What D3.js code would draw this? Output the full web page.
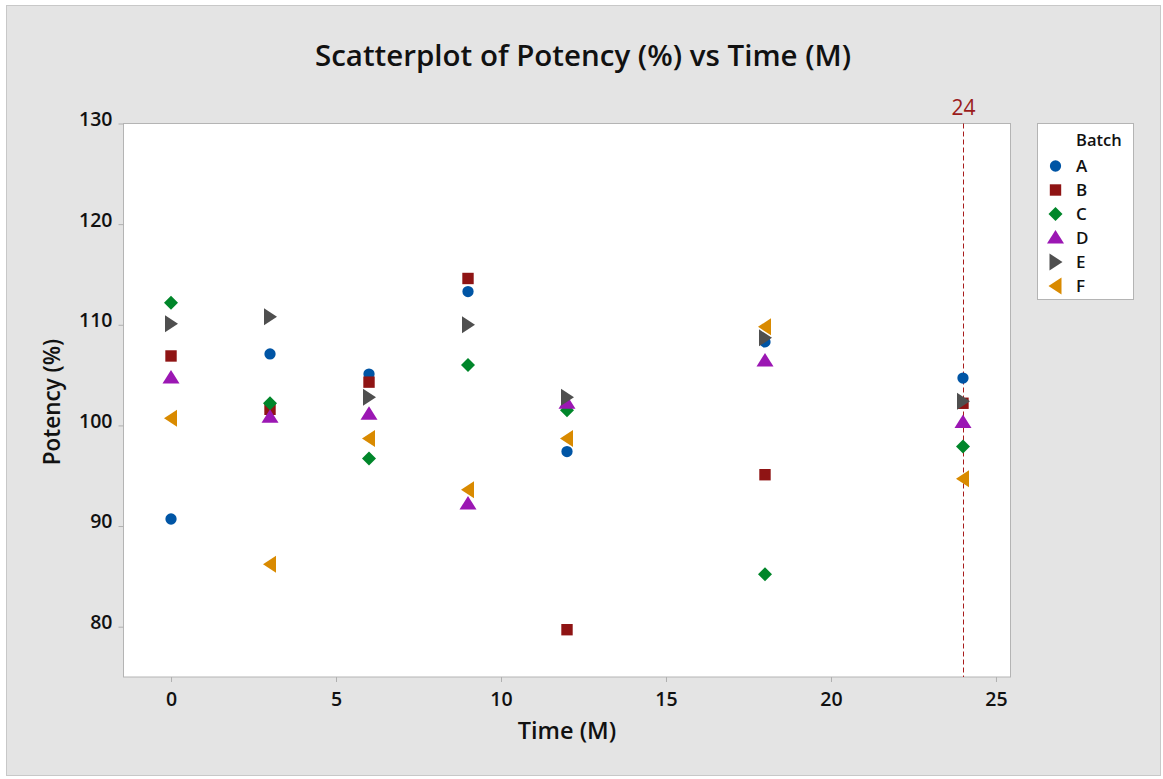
<!DOCTYPE html>
<html>
<head>
<meta charset="utf-8">
<script src="https://cdn.jsdelivr.net/npm/d3@7"></script>
<style>
  html, body { margin: 0; padding: 0; background: #ffffff; }
  svg { display: block; font-family: "Open Sans", "Noto Sans", sans-serif; }
</style>
</head>
<body>
<svg id="chart" width="1163" height="779"></svg>
<script>
// ---- Data ----
const times = [0, 3, 6, 9, 12, 18, 24];
const batches = ["A", "B", "C", "D", "E", "F"];
const potencyA = [90.7, 107.1, 105.1, 113.3, 97.4, 108.3, 104.7];
const potencyB = [106.9, 101.6, 104.3, 114.6, 79.7, 95.1, 102.2];
const potencyC = [112.2, 102.2, 96.7, 106.0, 101.5, 85.2, 97.9];
const potencyD = [104.7, 100.8, 101.1, 92.2, 102.2, 106.4, 100.3];
const potencyE = [110.1, 110.8, 102.8, 110.0, 102.8, 108.7, 102.4];
const potencyF = [100.7, 86.2, 98.7, 93.6, 98.7, 109.8, 94.7];
const xTicks = [0, 5, 10, 15, 20, 25];
const yTicks = [80, 90, 100, 110, 120, 130];
const refLineX = 24;
const seriesValues = [potencyA, potencyB, potencyC, potencyD, potencyE, potencyF];

const colors = ["#0055a5", "#8f1414", "#00862a", "#9b17b3", "#4f4f4f", "#d98a00"];

// ---- Layout ----
const svg = d3.select("#chart");
const W = 1163, H = 779;
const plot = { left: 123.5, top: 123.5, right: 1010.5, bottom: 677 };

svg.append("rect").attr("x", 0).attr("y", 0).attr("width", W).attr("height", H).attr("fill", "#ffffff");
svg.append("rect").attr("x", 6.5).attr("y", 5.5).attr("width", 1154).attr("height", 770)
  .attr("fill", "#e4e4e4").attr("stroke", "#c8c8c8").attr("stroke-width", 1);

const x = d3.scaleLinear().domain([-1.44, 25.44]).range([plot.left, plot.right]);
const y = d3.scaleLinear().domain([75, 130]).range([plot.bottom, plot.top]);

svg.append("rect").attr("x", plot.left).attr("y", plot.top)
  .attr("width", plot.right - plot.left).attr("height", plot.bottom - plot.top)
  .attr("fill", "#ffffff").attr("stroke", "#b4b4b4").attr("stroke-width", 1);

// Axes
const xAxis = svg.append("g").attr("transform", `translate(0,${plot.bottom})`)
  .call(d3.axisBottom(x).tickValues(xTicks).tickSize(5).tickSizeOuter(0).tickPadding(5));
const yAxis = svg.append("g").attr("transform", `translate(${plot.left},0)`)
  .call(d3.axisLeft(y).tickValues(yTicks).tickSize(5).tickSizeOuter(0).tickPadding(6));
[xAxis, yAxis].forEach(g => {
  g.select(".domain").remove();
  g.selectAll(".tick line").attr("stroke", "#b0b0b0");
  g.selectAll(".tick text").attr("fill", "#111").style("font-size", "19.5px")
    .style("font-weight", 600)
    .style("font-family", "'Open Sans', sans-serif");
});
xAxis.selectAll(".tick text").attr("dy", "0.95em");
yAxis.selectAll(".tick text").attr("dy", "0.1em");

// Title and labels
svg.append("text").attr("x", 583).attr("y", 66).attr("text-anchor", "middle")
  .style("font-size", "29.5px").style("font-weight", 600).attr("fill", "#111")
  .text("Scatterplot of Potency (%) vs Time (M)");
svg.append("text").attr("x", 567).attr("y", 739).attr("text-anchor", "middle")
  .style("font-size", "23.5px").style("font-weight", 600).attr("fill", "#111")
  .text("Time (M)");
svg.append("text").attr("transform", "translate(60,402) rotate(-90)").attr("text-anchor", "middle")
  .style("font-size", "22.5px").style("font-weight", 600).attr("fill", "#111")
  .text("Potency (%)");

// Reference line
const rx = Math.round(x(refLineX)) + 0.5;
svg.append("line").attr("x1", rx).attr("x2", rx)
  .attr("y1", plot.top).attr("y2", plot.bottom)
  .attr("stroke", "#a81c1c").attr("stroke-width", 1).attr("stroke-dasharray", "5,3");
svg.append("text").attr("x", rx).attr("y", 115).attr("text-anchor", "middle")
  .style("font-size", "21px").attr("fill", "#9b1c1c").text(String(refLineX));

// Symbols
function symbolPath(i) {
  switch (i) {
    case 0: return d3.symbol().type(d3.symbolCircle).size(100)();
    case 1: return d3.symbol().type(d3.symbolSquare).size(130)();
    case 2: return "M0,-7L7,0L0,7L-7,0Z";
    case 3: return "M0,-7.5L8.5,6L-8.5,6Z";
    case 4: return "M-6,-8.5L7,0L-6,8.5Z";
    case 5: return "M6,-8.5L-7,0L6,8.5Z";
  }
}
function symbolOffset(i) {
  return i === 3 ? -0.5 : 0;
}

batches.forEach((b, i) => {
  const pts = times.map((t, j) => ({ t, v: seriesValues[i][j] }));
  svg.append("g").selectAll("path").data(pts).join("path")
    .attr("d", symbolPath(i))
    .attr("transform", d => `translate(${x(d.t)},${y(d.v) + symbolOffset(i)})`)
    .attr("fill", colors[i]);
});

// Legend
const lg = svg.append("g");
lg.append("rect").attr("x", 1037.5).attr("y", 123.5).attr("width", 96).attr("height", 176)
  .attr("fill", "#ffffff").attr("stroke", "#b4b4b4");
lg.append("text").attr("x", 1076).attr("y", 146).style("font-size", "16.5px").style("font-weight", 600)
  .attr("fill", "#111").text("Batch");
batches.forEach((b, i) => {
  const cy = 166 + i * 24;
  lg.append("path").attr("d", symbolPath(i))
    .attr("transform", `translate(1055.5,${cy + symbolOffset(i)})`).attr("fill", colors[i]);
  lg.append("text").attr("x", 1076).attr("y", cy + 6).style("font-size", "17px")
    .style("font-weight", 600).attr("fill", "#111").text(b);
});
</script>
</body>
</html>
